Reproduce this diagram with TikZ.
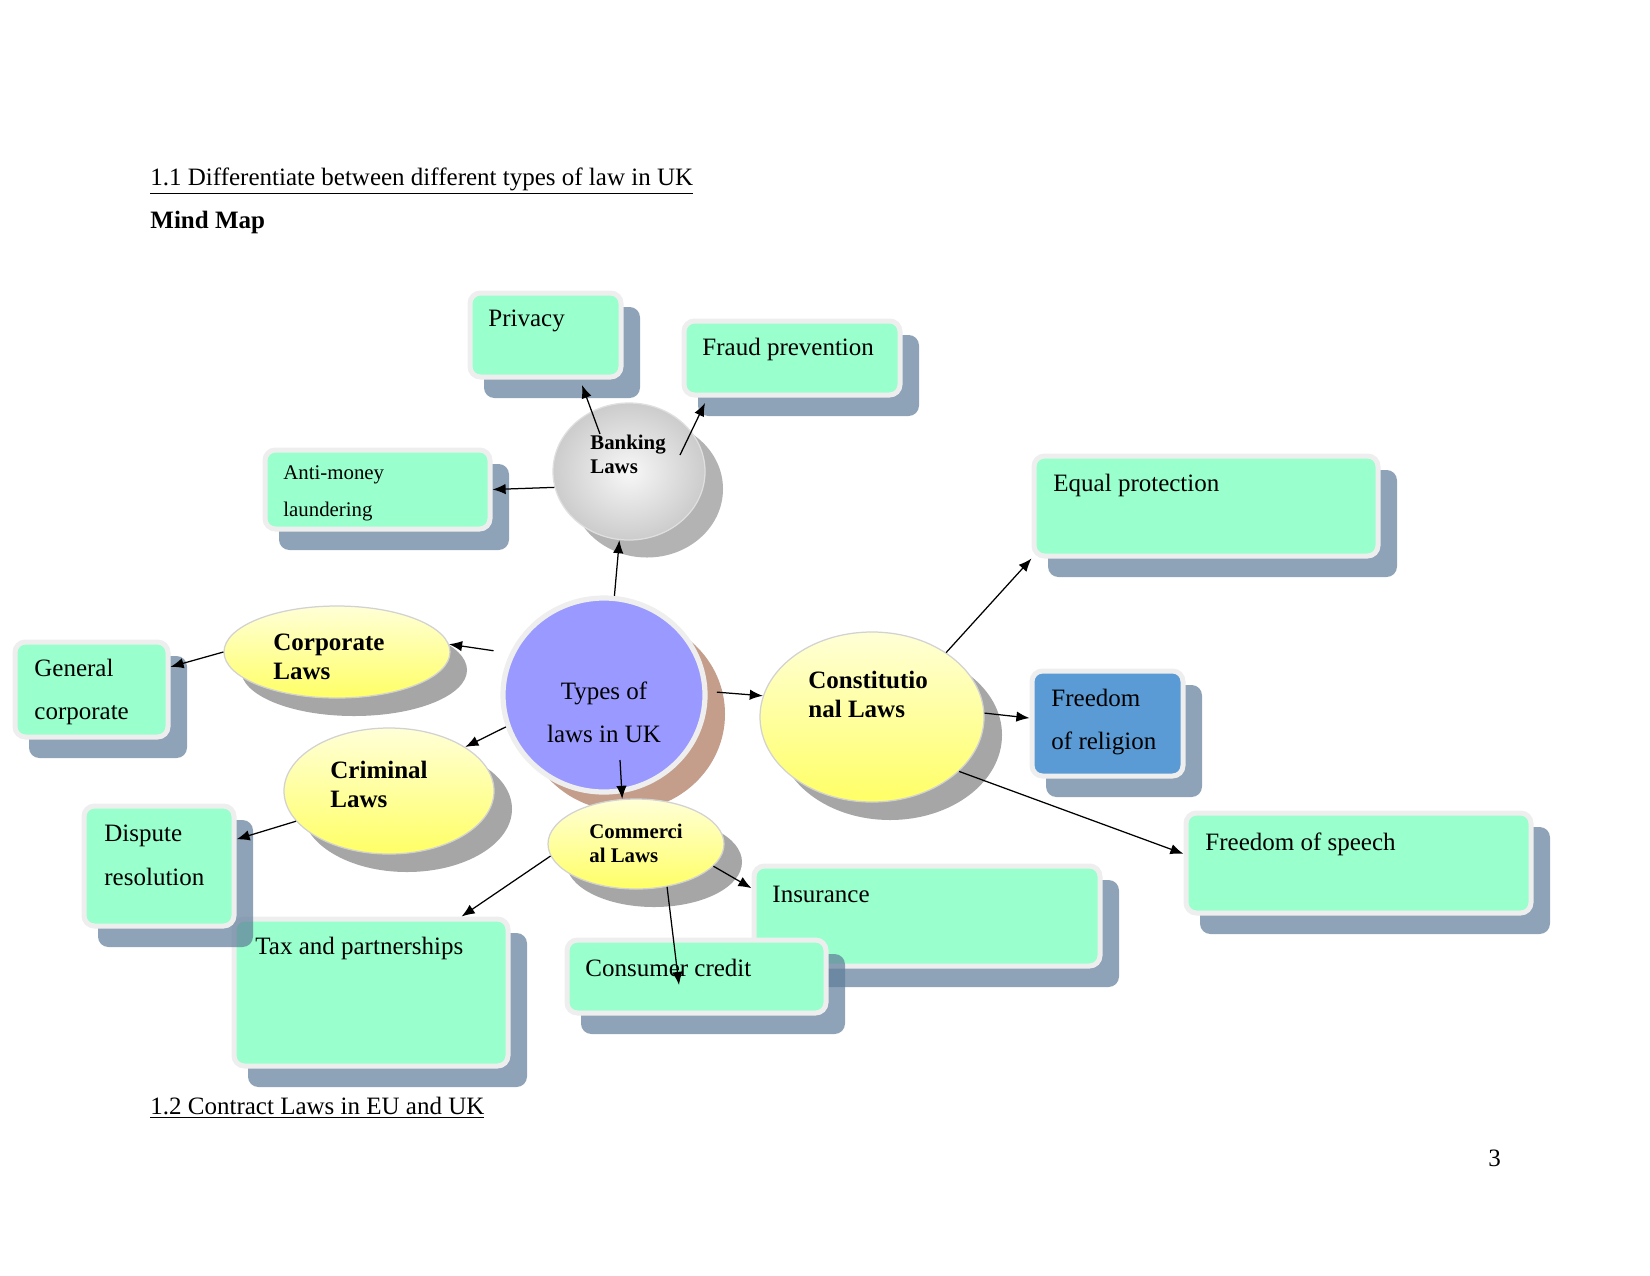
\documentclass[tikz,border=0pt]{standalone}
\usepackage{fontspec}
\setmainfont{Liberation Serif}
\usetikzlibrary{shapes.geometric,arrows.meta,fit,calc}
\definecolor{mint}{RGB}{153,255,204}
\definecolor{shad}{RGB}{95,125,154}
\definecolor{rim}{RGB}{238,238,238}
\definecolor{relblue}{RGB}{91,155,213}
\definecolor{ylt}{RGB}{255,255,215}
\definecolor{ydk}{RGB}{255,255,102}
\definecolor{violet1}{RGB}{153,153,255}
\definecolor{tan1}{RGB}{196,158,138}
\definecolor{eshad}{RGB}{166,166,166}
\tikzset{
  boxnode/.style={rectangle, rounded corners=5pt, draw=rim, line width=2.4pt, inner sep=0pt},
  boxshadow/.style={fill=shad, fill opacity=0.7, rounded corners=5pt},
  txt/.style={anchor=base west, inner sep=0pt, font=\fontsize{12}{14}\selectfont},
  btxt/.style={anchor=base west, inner sep=0pt, font=\fontsize{12}{14}\selectfont\bfseries},
  stxt/.style={anchor=base west, inner sep=0pt, font=\fontsize{10}{12}\selectfont},
  sbtxt/.style={anchor=base west, inner sep=0pt, font=\fontsize{10}{12}\selectfont\bfseries},
  yell/.style={ellipse, draw=gray!35, line width=0.6pt, top color=ylt, bottom color=ydk, inner sep=0pt},
  arr/.style={-{Latex[length=6.3pt,width=5pt]}, line width=0.6pt, black},
}
\newcommand\mmbox[6]{%
  \fill[boxshadow] (#2+14,#3+14) rectangle (#4+19,#5+21);
  \node[boxnode, fill=#6, fit={(#2,#3)(#4,#5)}] (#1) {};
}
\begin{document}
\begin{tikzpicture}[x=0.48pt,y=-0.48pt]
\useasboundingbox (0,0) rectangle (1650,1275);
\fill[white] (0,0) rectangle (1650,1275);

% headings
\node[txt] (title) at (150,185) {\underline{1.1 Differentiate between different types of law in UK}};
\node[btxt] (mindmap) at (150,228) {Mind Map};
\node[txt] (sec12) at (150,1114) {\underline{1.2 Contract Laws in EU and UK}};
\node[txt] (pagenum) at (1488,1166) {3};

% boxes
\mmbox{privacy}{470}{293}{621}{377}{mint}
\mmbox{fraud}{684}{321}{900}{395}{mint}
\mmbox{aml}{265}{450}{490}{529}{mint}
\mmbox{equal}{1034}{456}{1378}{556}{mint}
\mmbox{general}{15}{642}{168}{737}{mint}
\mmbox{religion}{1032}{671}{1183}{776}{relblue}
\mmbox{speech}{1186}{813}{1531}{913}{mint}
\mmbox{tax}{234}{919}{508}{1066}{mint}
\mmbox{dispute}{84}{806}{234}{926}{mint}
\mmbox{insurance}{754}{866}{1100}{966}{mint}
\mmbox{consumer}{567}{940}{826}{1013}{mint}

% ellipses
\fill[eshad!85] (647,489) ellipse [x radius=76, y radius=68.5];
\node[ellipse, inner color=gray!6, outer color=gray!40, draw=gray!25, line width=0.6pt,
      minimum width=72.96pt, minimum height=65.76pt, inner sep=0pt] (banking) at (629,471.5) {};

\fill[tan1] (624,714) ellipse [x radius=101, y radius=97];
\node[ellipse, fill=violet1, draw=rim, line width=2.5pt, inner sep=0pt,
      minimum width=96.96pt, minimum height=93.12pt] (types) at (604,695) {};

\fill[eshad] (354,670) ellipse [x radius=113, y radius=46];
\node[yell, minimum width=108.48pt, minimum height=44.16pt] (corporate) at (337,652) {};

\fill[eshad] (407,809) ellipse [x radius=105, y radius=63];
\node[yell, minimum width=100.8pt, minimum height=60.48pt] (criminal) at (389,791) {};

\fill[eshad] (890,735) ellipse [x radius=112, y radius=85];
\node[yell, minimum width=107.52pt, minimum height=81.6pt] (constitutional) at (872,717) {};

\fill[eshad] (654,862) ellipse [x radius=88, y radius=45];
\node[yell, minimum width=84.48pt, minimum height=43.2pt] (commercial) at (636,844) {};

% texts
\node[sbtxt] (bank1) at (590,449) {Banking};
\node[sbtxt] (bank2) at (590,473) {Laws};
\node[txt, anchor=base] (types1) at (604,699) {Types of};
\node[txt, anchor=base] (types2) at (604,742) {laws in UK};
\node[btxt] (corp1) at (273,650) {Corporate};
\node[btxt] (corp2) at (273,679) {Laws};
\node[btxt] (crim1) at (330,778) {Criminal};
\node[btxt] (crim2) at (330,807) {Laws};
\node[btxt] (cons1) at (808,688) {Constitutio};
\node[btxt] (cons2) at (808,717) {nal Laws};
\node[sbtxt] (comm1) at (589,838) {Commerci};
\node[sbtxt] (comm2) at (589,862) {al Laws};

\node[txt] (privacy-t) at (488,326) {Privacy};
\node[txt] (fraud-t) at (702,355) {Fraud prevention};
\node[stxt] (aml-t1) at (283,479) {Anti-money};
\node[stxt] (aml-t2) at (283,516) {laundering};
\node[txt] (equal-t) at (1053,491) {Equal protection};
\node[txt] (general-t1) at (34,676) {General};
\node[txt] (general-t2) at (34,719) {corporate};
\node[txt] (religion-t1) at (1051,706) {Freedom};
\node[txt] (religion-t2) at (1051,749) {of religion};
\node[txt] (dispute-t1) at (104,841) {Dispute};
\node[txt] (dispute-t2) at (104,885) {resolution};
\node[txt] (speech-t) at (1205,850) {Freedom of speech};
\node[txt] (insurance-t) at (772,902) {Insurance};
\node[txt] (tax-t) at (255,954) {Tax and partnerships};
\node[txt] (consumer-t) at (585,976) {Consumer credit};

% connector end points
\coordinate (bkP) at (600,434);
\coordinate (privT) at (582,385);
\coordinate (bkF) at (680,455);
\coordinate (fraudT) at (705,403);
\coordinate (tcS) at (620,760);
\coordinate (consT) at (679,985);

% connectors
\draw[arr] (types.84) -- (banking.262);
\draw[arr] (bkP) -- (privT);
\draw[arr] (bkF) -- (fraudT);
\draw[arr] (banking.192) -- (aml.east);
\draw[arr, shorten <=8pt] (types.156) -- (corporate.4);
\draw[arr] (corporate.west) -- (general.16);
\draw[arr] (types.198) -- (criminal.30);
\draw[arr] (criminal.198) -- (dispute.19);
\draw[arr] (tcS) -- (commercial.107);
\draw[arr, shorten <=4.5pt] (types.2) -- (constitutional.169);
\draw[arr] (constitutional.41) -- (equal.south west);
\draw[arr] (constitutional.2) -- (religion.176);
\draw[arr] (constitutional.-32) -- (speech.177);
\draw[arr] (commercial.188) -- (tax.40);
\draw[arr] (commercial.-16) -- (insurance.171);
\draw[arr] (commercial.-54) -- (consT);
\end{tikzpicture}
\end{document}
